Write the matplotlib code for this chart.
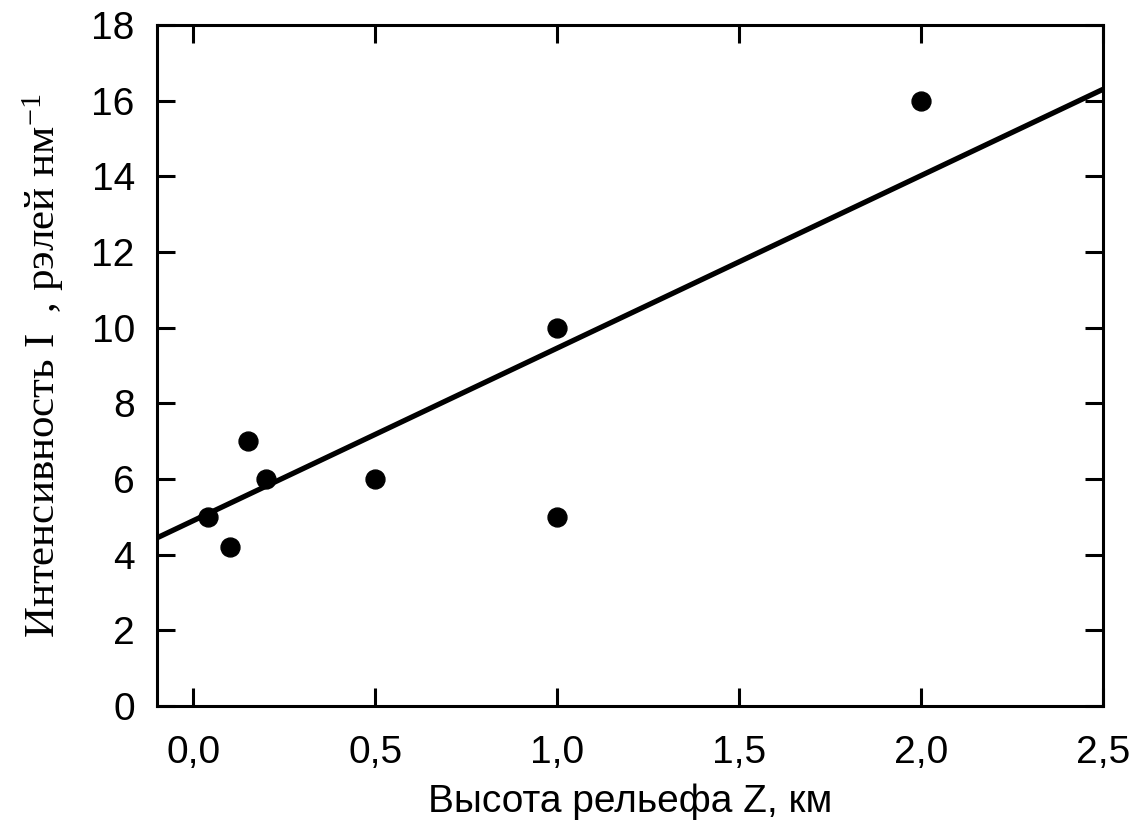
import numpy as np
import matplotlib.pyplot as plt

plt.rcParams['font.family'] = ['Liberation Sans', 'DejaVu Sans']
plt.rcParams['mathtext.fontset'] = 'custom'
plt.rcParams['mathtext.rm'] = 'Liberation Serif'
plt.rcParams['mathtext.it'] = 'Liberation Serif:italic'

# Data
height_km = [0.04, 0.10, 0.15, 0.20, 0.50, 1.00, 1.00, 2.00]
intensity = [5.0, 4.2, 7.0, 6.0, 6.0, 10.0, 5.0, 16.0]

# Fit line as drawn in the original
fit_slope = 4.56
fit_intercept = 4.90
fit_x = [-0.1, 2.5]

x_ticks = [0.0, 0.5, 1.0, 1.5, 2.0, 2.5]
x_ticklabels = ['0,0', '0,5', '1,0', '1,5', '2,0', '2,5']
y_ticks = list(range(0, 19, 2))

fig = plt.figure(figsize=(11.43, 8.33), dpi=100)
ax = fig.add_axes([0.1374, 0.1525, 0.8276, 0.8175])

fx = np.array(fit_x)
ax.plot(fx, fit_slope * fx + fit_intercept, color='black', lw=3.8, solid_capstyle='butt')
ax.scatter(height_km, intensity, s=185, color='black', zorder=3, clip_on=False)

ax.set_xlim(-0.1, 2.5)
ax.set_ylim(0, 18)
ax.set_xticks(x_ticks)
ax.set_xticklabels(x_ticklabels)
ax.set_yticks(y_ticks)

for s in ax.spines.values():
    s.set_linewidth(2.2)

ax.tick_params(direction='in', length=13, width=2.2, labelsize=28,
               top=True, right=True)
ax.tick_params(axis='x', pad=21)
ax.tick_params(axis='y', pad=16)

ax.set_xlabel('Высота рельефа Z, км', fontsize=28, labelpad=9)
ax.set_ylabel('Интенсивность I  , рэлей нм$^{-1}$', fontsize=31,
              family=['Liberation Serif', 'DejaVu Serif'], labelpad=18)

fig.savefig('out.png', dpi=100)
